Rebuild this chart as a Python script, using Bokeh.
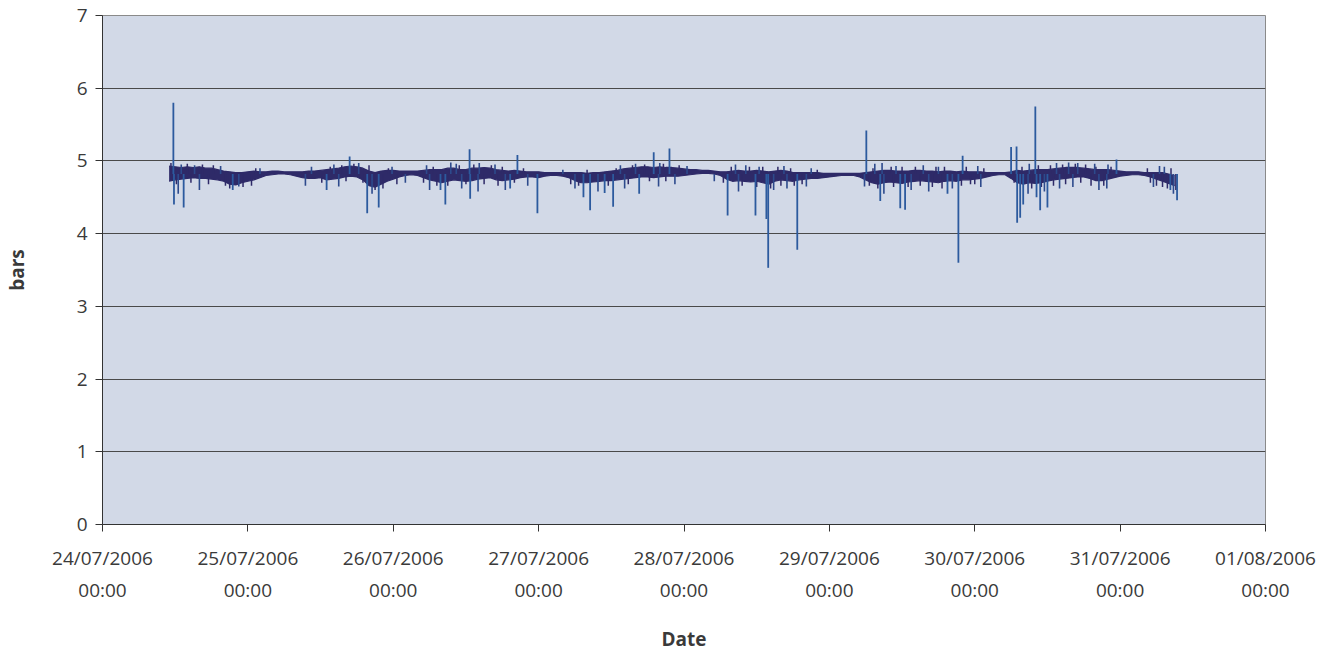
from datetime import datetime, timedelta
from bokeh.plotting import figure
from bokeh.models import (Range1d, FixedTicker, DatetimeTickFormatter, DatetimeAxis,
                          ColumnDataSource)
from bokeh.embed import file_html
from bokeh.resources import INLINE

# ---------------- data (bars) ----------------
START = datetime(2006, 7, 24)
first_hour = 11  # 24/07/2006 11:00, hourly readings up to 31/07/2006 09:00

band_low = [
    # 24/07 11h-23h
    4.72, 4.74, 4.75, 4.76, 4.77, 4.76, 4.76, 4.75, 4.74, 4.72, 4.68, 4.67, 4.70,
    # 25/07
    4.72, 4.74, 4.77, 4.80, 4.81, 4.82, 4.82, 4.81, 4.79, 4.77, 4.76, 4.76,
    4.77, 4.74, 4.75, 4.76, 4.78, 4.79, 4.78, 4.74, 4.66, 4.64, 4.68, 4.72,
    # 26/07
    4.75, 4.78, 4.80, 4.81, 4.80, 4.77, 4.74, 4.72, 4.70, 4.72, 4.74, 4.73,
    4.72, 4.73, 4.75, 4.76, 4.77, 4.74, 4.73, 4.74, 4.75, 4.77, 4.78, 4.78,
    # 27/07
    4.77, 4.79, 4.80, 4.80, 4.79, 4.77, 4.73, 4.70, 4.70, 4.71, 4.72, 4.73,
    4.73, 4.74, 4.75, 4.76, 4.77, 4.78, 4.78, 4.77, 4.78, 4.79, 4.79, 4.79,
    # 28/07
    4.80, 4.81, 4.82, 4.83, 4.83, 4.82, 4.80, 4.75, 4.72, 4.73, 4.72, 4.71,
    4.72, 4.70, 4.68, 4.72, 4.74, 4.73, 4.72, 4.74, 4.75, 4.76, 4.76, 4.77,
    # 29/07
    4.78, 4.79, 4.80, 4.80, 4.80, 4.78, 4.74, 4.70, 4.68, 4.70, 4.71, 4.70,
    4.69, 4.71, 4.72, 4.73, 4.72, 4.71, 4.70, 4.72, 4.73, 4.72, 4.74, 4.74,
    # 30/07
    4.75, 4.76, 4.78, 4.80, 4.81, 4.81, 4.76, 4.70, 4.68, 4.70, 4.69, 4.70,
    4.72, 4.74, 4.75, 4.76, 4.77, 4.78, 4.78, 4.76, 4.73, 4.73, 4.75, 4.77,
    # 31/07 0h-9h
    4.79, 4.80, 4.81, 4.81, 4.80, 4.78, 4.75, 4.72, 4.69, 4.66,
]

band_high = [
    # 24/07 11h-23h
    4.93, 4.92, 4.91, 4.92, 4.91, 4.92, 4.90, 4.90, 4.88, 4.86, 4.85, 4.84, 4.84,
    # 25/07
    4.85, 4.86, 4.85, 4.85, 4.86, 4.86, 4.85, 4.85, 4.85, 4.85, 4.86, 4.86,
    4.87, 4.88, 4.89, 4.90, 4.92, 4.93, 4.92, 4.90, 4.86, 4.84, 4.86, 4.87,
    # 26/07
    4.87, 4.86, 4.86, 4.86, 4.86, 4.87, 4.88, 4.88, 4.88, 4.90, 4.90, 4.88,
    4.88, 4.90, 4.90, 4.91, 4.90, 4.88, 4.87, 4.86, 4.87, 4.86, 4.85, 4.85,
    # 27/07
    4.85, 4.84, 4.84, 4.84, 4.84, 4.84, 4.84, 4.84, 4.83, 4.84, 4.84, 4.85,
    4.86, 4.87, 4.89, 4.90, 4.91, 4.92, 4.92, 4.91, 4.92, 4.91, 4.91, 4.90,
    # 28/07
    4.89, 4.88, 4.88, 4.87, 4.87, 4.86, 4.85, 4.85, 4.86, 4.87, 4.86, 4.86,
    4.87, 4.86, 4.85, 4.86, 4.87, 4.86, 4.84, 4.84, 4.84, 4.84, 4.84, 4.83,
    # 29/07
    4.83, 4.83, 4.83, 4.83, 4.83, 4.83, 4.84, 4.85, 4.86, 4.87, 4.87, 4.86,
    4.86, 4.86, 4.87, 4.87, 4.86, 4.86, 4.85, 4.86, 4.86, 4.85, 4.86, 4.85,
    # 30/07
    4.85, 4.85, 4.84, 4.84, 4.84, 4.84, 4.85, 4.87, 4.86, 4.87, 4.88, 4.88,
    4.88, 4.89, 4.90, 4.91, 4.91, 4.91, 4.90, 4.89, 4.88, 4.88, 4.88, 4.87,
    # 31/07 0h-9h
    4.86, 4.85, 4.85, 4.85, 4.84, 4.84, 4.84, 4.84, 4.82, 4.80,
]

# large pressure spikes: hour offset from 24/07/2006 00:00, value in bars
spike_hours = [11.7, 40.8, 60.6, 68.5, 91.0, 93.6, 126.1, 142.0, 150.0, 150.9,
               154.0, 167.4,
               11.8, 13.4, 21.5, 37.0, 43.7, 45.6, 55.8, 56.6, 60.7, 67.3, 71.8,
               79.4, 80.5, 82.9, 84.3, 88.6, 103.2, 107.8, 109.6, 109.9, 114.7,
               128.4, 131.7, 132.5, 139.5, 141.3, 151.0, 151.5, 152.0, 154.2,
               154.8, 156.0, 176.3, 177.4]
spike_values = [5.80, 5.06, 5.16, 5.08, 5.12, 5.17, 5.42, 5.07, 5.19, 5.20,
                5.75, 5.02,
                4.40, 4.36, 4.60, 4.60, 4.28, 4.36, 4.60, 4.40, 4.48, 4.62, 4.28,
                4.50, 4.32, 4.56, 4.37, 4.55, 4.25, 4.25, 4.20, 3.53, 3.78,
                4.45, 4.35, 4.33, 4.55, 3.60, 4.15, 4.22, 4.40, 4.50,
                4.32, 4.36, 4.60, 4.46]

# small excursions in the noisy parts
small_hours = [13.0, 15.2, 19.5, 26.0, 34.5, 38.2, 42.3, 47.8, 53.5, 57.5, 58.4,
               62.2, 64.8, 76.0, 85.5, 88.0, 92.0, 96.5, 104.5, 106.2, 108.4,
               112.5, 117.0, 127.5, 128.7, 131.0, 135.5, 138.0, 144.5, 153.0,
               157.5, 159.5, 161.0, 163.8, 166.0, 174.5, 175.3,
               12.5, 16.0, 22.5, 33.5, 39.0, 44.5, 50.0, 54.0, 59.3, 62.0, 66.5,
               70.2, 78.0, 81.8, 86.2, 91.8, 94.5, 101.0, 105.0, 110.8, 113.0,
               116.2, 125.8, 129.0, 133.5, 136.4, 140.3, 145.0, 152.8, 155.5,
               158.0, 160.2, 164.5, 165.8, 173.5, 176.8]
small_values = [4.95, 4.94, 4.93, 4.90, 4.92, 4.95, 4.97, 4.92, 4.94, 4.98, 4.96,
                4.97, 4.95, 4.88, 4.94, 4.96, 4.97, 4.93, 4.95, 4.94, 4.92,
                4.93, 4.90, 4.96, 4.97, 4.93, 4.94, 4.92, 4.93, 4.96,
                4.97, 4.98, 4.97, 4.96, 4.95, 4.93, 4.92,
                4.55, 4.60, 4.65, 4.66, 4.65, 4.55, 4.70, 4.60, 4.62, 4.58, 4.60,
                4.66, 4.62, 4.58, 4.62, 4.65, 4.68, 4.72, 4.58, 4.60, 4.62,
                4.65, 4.65, 4.55, 4.60, 4.58, 4.62, 4.64, 4.55, 4.58,
                4.62, 4.64, 4.60, 4.62, 4.64, 4.55]

# dense jitter inside the noisy stretches (dark trace)
jitter_hours = [11.3, 12.2, 14.0, 14.6, 16.5, 17.5, 18.3, 20.3, 21.0, 23.2,
                24.6, 25.3, 36.2, 37.6, 39.5, 40.2, 41.5, 43.0, 44.0, 45.0, 46.3, 47.2,
                48.6, 53.0, 54.6, 55.2, 57.0, 58.9, 60.0, 61.3, 63.0, 64.2, 65.3,
                66.0, 68.0, 69.5,
                77.3, 78.6, 80.0, 83.5, 84.8, 86.8, 87.5, 89.5, 90.3, 92.6, 93.0, 95.2,
                102.5, 103.8, 105.6, 106.8, 108.0, 109.0, 110.3, 111.5, 112.0, 113.6,
                114.2, 115.5, 118.0,
                126.6, 127.2, 128.0, 130.2, 130.6, 132.0, 133.0, 134.2, 135.0, 137.0,
                137.6, 138.6, 139.0, 141.8, 142.6, 143.3,
                144.0, 145.5, 150.5, 151.8, 153.4, 154.5, 155.0, 156.5, 157.0, 158.5,
                159.0, 160.6, 161.5, 162.3, 163.2, 164.0, 165.3, 166.5,
                172.5, 173.0, 174.0, 175.0, 175.8, 176.4, 177.2]
jitter_values = [4.97, 4.68, 4.96, 4.70, 4.95, 4.68, 4.94, 4.66, 4.62, 4.64,
                 4.66, 4.90, 4.70, 4.92, 4.94, 4.72, 4.96, 4.70, 4.94, 4.60, 4.62, 4.90,
                 4.68, 4.70, 4.92, 4.66, 4.66, 4.94, 4.68, 4.95, 4.68, 4.94, 4.66,
                 4.92, 4.70, 4.90,
                 4.68, 4.66, 4.88, 4.66, 4.90, 4.68, 4.94, 4.95, 4.72, 4.96, 4.72, 4.94,
                 4.70, 4.92, 4.66, 4.92, 4.64, 4.92, 4.62, 4.92, 4.66, 4.90,
                 4.66, 4.68, 4.88,
                 4.66, 4.90, 4.62, 4.92, 4.64, 4.92, 4.64, 4.92, 4.66, 4.64,
                 4.92, 4.62, 4.92, 4.66, 4.92, 4.68,
                 4.68, 4.90, 4.70, 4.92, 4.62, 4.94, 4.64, 4.94, 4.66, 4.95,
                 4.68, 4.96, 4.70, 4.95, 4.66, 4.92, 4.66, 4.92,
                 4.90, 4.70, 4.66, 4.64, 4.62, 4.90, 4.60]

day_labels = ["24/07/2006", "25/07/2006", "26/07/2006", "27/07/2006",
              "28/07/2006", "29/07/2006", "30/07/2006", "31/07/2006", "01/08/2006"]
y_ticks = [0, 1, 2, 3, 4, 5, 6, 7]

# ---------------- build ----------------
def when(h):
    return START + timedelta(hours=h)

EPOCH = datetime(1970, 1, 1)
def ms(dt):
    return (dt - EPOCH).total_seconds() * 1000.0

band_t = [when(first_hour + i) for i in range(len(band_low))]
band_src = ColumnDataSource(dict(t=band_t, lo=band_low, hi=band_high))
spike_src = ColumnDataSource(dict(t=[when(h) for h in spike_hours], v=spike_values))
small_src = ColumnDataSource(dict(t=[when(h) for h in small_hours], v=small_values))
jit_src = ColumnDataSource(dict(t=[when(h) for h in jitter_hours], v=jitter_values))

FONT = "Open Sans"
TXT = "#3a3a3a"
BASE = 4.82
DARK = "#2e2a68"

p = figure(width=1316, height=654, output_backend="svg", toolbar_location=None,
           x_axis_type="datetime",
           x_range=Range1d(START, START + timedelta(days=8)),
           y_range=Range1d(0, 7),
           min_border_left=102, min_border_right=51, min_border_top=15,
           min_border_bottom=110)
p.background_fill_color = "#d2d9e7"
p.border_fill_color = "#ffffff"
p.outline_line_color = "#8a8a8a"

# band of readings
p.varea(x="t", y1="lo", y2="hi", source=band_src, fill_color=DARK)
p.line(x="t", y="lo", source=band_src, line_color=DARK, line_width=1.2)
p.line(x="t", y="hi", source=band_src, line_color=DARK, line_width=1.2)
# excursions
p.segment(x0="t", y0=BASE, x1="t", y1="v", source=jit_src,
          line_color=DARK, line_width=1.5)
p.segment(x0="t", y0=BASE, x1="t", y1="v", source=small_src,
          line_color="#2d4a8c", line_width=1.6)
p.segment(x0="t", y0=BASE, x1="t", y1="v", source=spike_src,
          line_color="#2c5a9e", line_width=1.8)

day_ticks = [ms(START + timedelta(days=d)) for d in range(len(day_labels))]

def date_fmt(fmt):
    return DatetimeTickFormatter(days=fmt, hours=fmt, months=fmt, years=fmt,
                                 minutes=fmt, strip_leading_zeros=False)

# x axis: dates
xa = p.xaxis[0]
xa.ticker = FixedTicker(ticks=day_ticks)
xa.formatter = date_fmt("%d/%m/%Y")
xa.axis_line_color = "#333333"
xa.major_tick_line_color = "#333333"
xa.major_tick_out = 7
xa.major_tick_in = 0
xa.minor_tick_line_color = None
xa.major_label_text_font = FONT
xa.major_label_text_font_size = "19px"
xa.major_label_text_color = TXT
xa.major_label_standoff = 13

# second row: times
xa2 = DatetimeAxis(ticker=FixedTicker(ticks=day_ticks), formatter=date_fmt("%H:%M"))
xa2.axis_line_color = None
xa2.major_tick_line_color = None
xa2.minor_tick_line_color = None
xa2.major_tick_out = 0
xa2.major_label_text_font = FONT
xa2.major_label_text_font_size = "19px"
xa2.major_label_text_color = TXT
xa2.major_label_standoff = 3
xa2.axis_label = "Date"
xa2.axis_label_text_font = FONT
xa2.axis_label_text_font_size = "19px"
xa2.axis_label_text_font_style = "bold"
xa2.axis_label_text_color = TXT
xa2.axis_label_standoff = 20
p.add_layout(xa2, "below")

ya = p.yaxis[0]
ya.ticker = FixedTicker(ticks=y_ticks)
ya.axis_line_color = "#333333"
ya.major_tick_line_color = "#333333"
ya.major_tick_out = 7
ya.major_tick_in = 0
ya.minor_tick_line_color = None
ya.major_label_text_font = FONT
ya.major_label_text_font_size = "19px"
ya.major_label_text_color = TXT
ya.major_label_standoff = 8
ya.axis_label = "bars"
ya.axis_label_text_font = FONT
ya.axis_label_text_font_size = "19px"
ya.axis_label_text_font_style = "bold"
ya.axis_label_text_color = TXT
ya.axis_label_standoff = 44

p.xgrid.grid_line_color = None
p.ygrid.ticker = FixedTicker(ticks=y_ticks)
p.ygrid.grid_line_color = "#4a4a4a"
p.ygrid.grid_line_width = 1

open("out.html", "w").write(file_html(p, INLINE))
